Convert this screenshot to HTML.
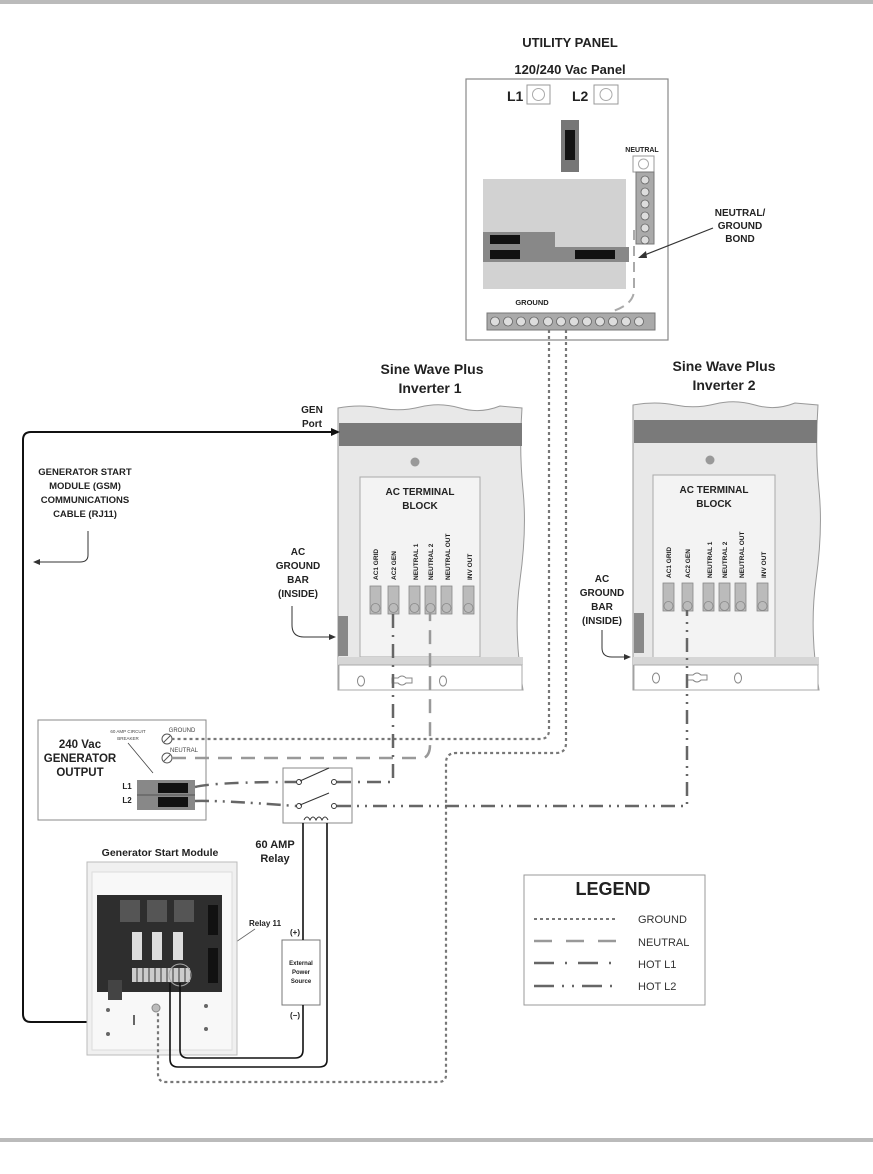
<!DOCTYPE html>
<html><head><meta charset="utf-8"><style>
html,body{margin:0;padding:0;background:#fff;}
svg{display:block;font-family:"Liberation Sans",Arial,sans-serif;}
.b{font-weight:bold;fill:#222;}
</style></head><body>
<svg width="873" height="1174" viewBox="0 0 873 1174" xmlns="http://www.w3.org/2000/svg">
<rect x="0" y="0" width="873" height="4" fill="#bbb"/>
<rect x="0" y="1138" width="873" height="4" fill="#bbb"/>

<!-- UTILITY PANEL -->
<text class="b" x="570" y="47" font-size="13" text-anchor="middle">UTILITY PANEL</text>
<text class="b" x="570" y="74" font-size="13" text-anchor="middle">120/240 Vac Panel</text>
<rect x="466" y="79" width="202" height="261" fill="#fff" stroke="#888" stroke-width="1.2"/>
<text class="b" x="507" y="101" font-size="14">L1</text>
<rect x="527" y="85" width="23" height="19" fill="#fff" stroke="#999"/><circle cx="538.5" cy="94.5" r="6" fill="none" stroke="#aaa"/>
<text class="b" x="572" y="101" font-size="14">L2</text>
<rect x="594" y="85" width="24" height="19" fill="#fff" stroke="#999"/><circle cx="606" cy="94.5" r="6" fill="none" stroke="#aaa"/>
<rect x="561" y="120" width="18" height="52" fill="#777"/><rect x="565" y="130" width="10" height="30" fill="#111"/>
<rect x="483" y="179" width="143" height="110" fill="#d2d2d2"/>
<rect x="483" y="232" width="72" height="15" fill="#888"/><rect x="490" y="235" width="30" height="9" fill="#111"/>
<rect x="483" y="247" width="146" height="15" fill="#888"/><rect x="490" y="250" width="30" height="9" fill="#111"/><rect x="575" y="250" width="40" height="9" fill="#111"/>
<text class="b" x="642" y="152" font-size="7" text-anchor="middle">NEUTRAL</text>
<rect x="633" y="156" width="21" height="16" fill="#fff" stroke="#999"/><circle cx="643.5" cy="164" r="5" fill="none" stroke="#aaa"/>
<rect x="636" y="172" width="18" height="72" fill="#aaa" stroke="#777"/>
<g fill="#ddd" stroke="#666" stroke-width="0.8">
<circle cx="645" cy="180" r="4"/><circle cx="645" cy="192" r="4"/><circle cx="645" cy="204" r="4"/><circle cx="645" cy="216" r="4"/><circle cx="645" cy="228" r="4"/><circle cx="645" cy="240" r="4"/></g>
<path d="M634 230 V290 Q634 305 610 312" fill="none" stroke="#aaa" stroke-width="2" stroke-dasharray="10 6"/>
<text class="b" x="532" y="305" font-size="7.5" text-anchor="middle">GROUND</text>
<rect x="487" y="313" width="168" height="17" fill="#aaa" stroke="#777"/>
<g fill="#ddd" stroke="#666" stroke-width="0.8">
<circle cx="495" cy="321.5" r="4.5"/><circle cx="508" cy="321.5" r="4.5"/><circle cx="521" cy="321.5" r="4.5"/><circle cx="534" cy="321.5" r="4.5"/><circle cx="548" cy="321.5" r="4.5"/><circle cx="561" cy="321.5" r="4.5"/><circle cx="574" cy="321.5" r="4.5"/><circle cx="587" cy="321.5" r="4.5"/><circle cx="600" cy="321.5" r="4.5"/><circle cx="613" cy="321.5" r="4.5"/><circle cx="626" cy="321.5" r="4.5"/><circle cx="639" cy="321.5" r="4.5"/></g>
<text class="b" x="740" y="216" font-size="10" text-anchor="middle">NEUTRAL/</text>
<text class="b" x="740" y="229" font-size="10" text-anchor="middle">GROUND</text>
<text class="b" x="740" y="242" font-size="10" text-anchor="middle">BOND</text>
<line x1="713" y1="228" x2="642" y2="256" stroke="#333" stroke-width="1.2"/>
<polygon points="638,258 646,251 647,258" fill="#333"/>

<!-- Inverter titles -->
<text class="b" x="432" y="374" font-size="14" text-anchor="middle">Sine Wave Plus</text>
<text class="b" x="430" y="393" font-size="14" text-anchor="middle">Inverter 1</text>
<text class="b" x="724" y="371" font-size="14" text-anchor="middle">Sine Wave Plus</text>
<text class="b" x="724" y="390" font-size="14" text-anchor="middle">Inverter 2</text>

<!-- Inverter 1 -->
<g>
<path d="M338 408 Q360 404 380 408 T420 407 T460 408 T500 406 L522 408 Q519 450 523 490 T520 580 T523 690 L338 690 Z" fill="#e8e8e8" stroke="#999"/>
<rect x="339" y="423" width="183" height="23" fill="#7a7a7a"/>
<circle cx="415" cy="462" r="4.5" fill="#999"/>
<rect x="360" y="477" width="120" height="180" fill="#f3f3f3" stroke="#aaa"/>
<text class="b" x="420" y="495" font-size="10" text-anchor="middle">AC TERMINAL</text>
<text class="b" x="420" y="509" font-size="10" text-anchor="middle">BLOCK</text>
<rect x="338" y="657" width="185" height="8" fill="#d6d6d6"/>
<rect x="339" y="665" width="183" height="25" fill="#fff" stroke="#aaa"/>
<ellipse cx="361" cy="681" rx="3.5" ry="5" fill="none" stroke="#888"/>
<ellipse cx="443" cy="681" rx="3.5" ry="5" fill="none" stroke="#888"/>
<path d="M392 678 h6 q4 -4 8 0 h6 v5 h-6 q-4 4 -8 0 h-6z" fill="none" stroke="#888"/>
<rect x="338" y="616" width="10" height="40" fill="#888"/>
<g font-size="6.5" class="b" fill="#333">
<text transform="translate(378,580) rotate(-90)">AC1 GRID</text>
<text transform="translate(396,580) rotate(-90)">AC2 GEN</text>
<text transform="translate(418,580) rotate(-90)">NEUTRAL 1</text>
<text transform="translate(433,580) rotate(-90)">NEUTRAL 2</text>
<text transform="translate(450,580) rotate(-90)">NEUTRAL OUT</text>
<text transform="translate(472,580) rotate(-90)">INV OUT</text>
</g>
<g fill="#bbb" stroke="#888" stroke-width="0.8">
<rect x="370" y="586" width="11" height="28"/><rect x="388" y="586" width="11" height="28"/><rect x="409" y="586" width="11" height="28"/><rect x="425" y="586" width="11" height="28"/><rect x="441" y="586" width="11" height="28"/><rect x="463" y="586" width="11" height="28"/>
<circle cx="375.5" cy="608" r="4.5"/><circle cx="393.5" cy="608" r="4.5"/><circle cx="414.5" cy="608" r="4.5"/><circle cx="430.5" cy="608" r="4.5"/><circle cx="446.5" cy="608" r="4.5"/><circle cx="468.5" cy="608" r="4.5"/></g>
</g>

<!-- Inverter 2 -->
<g>
<path d="M633 405 Q655 401 675 405 T715 404 T755 405 T795 403 L818 405 Q815 450 819 490 T816 580 T819 690 L633 690 Z" fill="#e8e8e8" stroke="#999"/>
<rect x="634" y="420" width="183" height="23" fill="#7a7a7a"/>
<circle cx="710" cy="460" r="4.5" fill="#999"/>
<rect x="653" y="475" width="122" height="190" fill="#f3f3f3" stroke="#aaa"/>
<text class="b" x="714" y="493" font-size="10" text-anchor="middle">AC TERMINAL</text>
<text class="b" x="714" y="507" font-size="10" text-anchor="middle">BLOCK</text>
<rect x="633" y="657" width="186" height="8" fill="#d6d6d6"/>
<rect x="634" y="665" width="184" height="25" fill="#fff" stroke="#aaa"/>
<ellipse cx="656" cy="678" rx="3.5" ry="5" fill="none" stroke="#888"/>
<ellipse cx="738" cy="678" rx="3.5" ry="5" fill="none" stroke="#888"/>
<path d="M687 675 h6 q4 -4 8 0 h6 v5 h-6 q-4 4 -8 0 h-6z" fill="none" stroke="#888"/>
<rect x="634" y="613" width="10" height="40" fill="#888"/>
<g font-size="6.5" class="b" fill="#333">
<text transform="translate(671,578) rotate(-90)">AC1 GRID</text>
<text transform="translate(690,578) rotate(-90)">AC2 GEN</text>
<text transform="translate(712,578) rotate(-90)">NEUTRAL 1</text>
<text transform="translate(727,578) rotate(-90)">NEUTRAL 2</text>
<text transform="translate(744,578) rotate(-90)">NEUTRAL OUT</text>
<text transform="translate(766,578) rotate(-90)">INV OUT</text>
</g>
<g fill="#bbb" stroke="#888" stroke-width="0.8">
<rect x="663" y="583" width="11" height="28"/><rect x="682" y="583" width="11" height="28"/><rect x="703" y="583" width="11" height="28"/><rect x="719" y="583" width="11" height="28"/><rect x="735" y="583" width="11" height="28"/><rect x="757" y="583" width="11" height="28"/>
<circle cx="668.5" cy="606" r="4.5"/><circle cx="687.5" cy="606" r="4.5"/><circle cx="708.5" cy="606" r="4.5"/><circle cx="724.5" cy="606" r="4.5"/><circle cx="740.5" cy="606" r="4.5"/><circle cx="762.5" cy="606" r="4.5"/></g>
</g>

<!-- labels left -->
<text class="b" x="312" y="413" font-size="10" text-anchor="middle">GEN</text>
<text class="b" x="312" y="427" font-size="10" text-anchor="middle">Port</text>
<text class="b" x="85" y="475" font-size="9.5" text-anchor="middle">GENERATOR START</text>
<text class="b" x="85" y="489" font-size="9.5" text-anchor="middle">MODULE (GSM)</text>
<text class="b" x="85" y="503" font-size="9.5" text-anchor="middle">COMMUNICATIONS</text>
<text class="b" x="85" y="517" font-size="9.5" text-anchor="middle">CABLE (RJ11)</text>
<path d="M88 531 V555 Q88 562 80 562 H38" fill="none" stroke="#333" stroke-width="1"/>
<polygon points="33,562 40,559 40,565" fill="#333"/>
<g class="b" font-size="10" text-anchor="middle">
<text x="298" y="555">AC</text><text x="298" y="569">GROUND</text><text x="298" y="583">BAR</text><text x="298" y="597">(INSIDE)</text>
<text x="602" y="582">AC</text><text x="602" y="596">GROUND</text><text x="602" y="610">BAR</text><text x="602" y="624">(INSIDE)</text>
</g>
<path d="M292 606 V625 Q292 637 304 637 H331" fill="none" stroke="#333" stroke-width="1"/>
<polygon points="336,637 329,634 329,640" fill="#333"/>
<path d="M602 630 V648 Q602 657 612 657 H626" fill="none" stroke="#333" stroke-width="1"/>
<polygon points="631,657 624,654 624,660" fill="#333"/>

<!-- GEN port cable -->
<path d="M334 432 H31 Q23 432 23 440 V1014 Q23 1022 31 1022 H108 Q115 1022 115 1014 V1000" fill="none" stroke="#111" stroke-width="2"/>
<polygon points="340,432 331,428 331,436" fill="#111"/>

<!-- Generator output box -->
<rect x="38" y="720" width="168" height="100" fill="#fff" stroke="#888"/>
<text class="b" x="80" y="748" font-size="11.5" text-anchor="middle">240 Vac</text>
<text class="b" x="80" y="762" font-size="11.5" text-anchor="middle">GENERATOR</text>
<text class="b" x="80" y="776" font-size="11.5" text-anchor="middle">OUTPUT</text>
<text x="128" y="733" font-size="4.5" fill="#444" text-anchor="middle">60 AMP CIRCUIT</text>
<text x="128" y="740" font-size="4.5" fill="#444" text-anchor="middle">BREAKER</text>
<line x1="128" y1="743" x2="153" y2="773" stroke="#444" stroke-width="0.8"/>
<text x="182" y="732" font-size="6" fill="#444" text-anchor="middle">GROUND</text>
<text x="184" y="752" font-size="6" fill="#444" text-anchor="middle">NEUTRAL</text>
<circle cx="167" cy="739" r="5" fill="#fff" stroke="#555"/><line x1="164" y1="742" x2="170" y2="736" stroke="#555"/>
<circle cx="167" cy="758" r="5" fill="#fff" stroke="#555"/><line x1="164" y1="761" x2="170" y2="755" stroke="#555"/>
<text class="b" x="127" y="789" font-size="8" text-anchor="middle">L1</text>
<text class="b" x="127" y="803" font-size="8" text-anchor="middle">L2</text>
<rect x="137" y="780" width="58" height="30" fill="#888"/>
<rect x="158" y="783" width="30" height="10" fill="#111"/><rect x="158" y="797" width="30" height="10" fill="#111"/>
<line x1="137" y1="795" x2="195" y2="795" stroke="#555"/>

<!-- relay -->
<rect x="283" y="768" width="69" height="55" fill="#fff" stroke="#888"/>
<circle cx="299" cy="782" r="2.5" fill="#fff" stroke="#333"/><line x1="300" y1="781" x2="329" y2="768" stroke="#333"/><circle cx="334" cy="782" r="2.5" fill="#fff" stroke="#333"/>
<circle cx="299" cy="806" r="2.5" fill="#fff" stroke="#333"/><line x1="300" y1="805" x2="329" y2="793" stroke="#333"/><circle cx="334" cy="806" r="2.5" fill="#fff" stroke="#333"/>
<path d="M304 820 q3 -6 6 0 q3 -6 6 0 q3 -6 6 0 q3 -6 6 0" fill="none" stroke="#333" stroke-width="1"/>
<text class="b" x="275" y="848" font-size="11" text-anchor="middle">60 AMP</text>
<text class="b" x="275" y="862" font-size="11" text-anchor="middle">Relay</text>

<!-- external power -->
<text class="b" x="295" y="935" font-size="8" text-anchor="middle">(+)</text>
<rect x="282" y="940" width="38" height="65" fill="#fff" stroke="#777"/>
<text class="b" x="301" y="965" font-size="6" text-anchor="middle">External</text>
<text class="b" x="301" y="974" font-size="6" text-anchor="middle">Power</text>
<text class="b" x="301" y="983" font-size="6" text-anchor="middle">Source</text>
<text class="b" x="295" y="1018" font-size="8" text-anchor="middle">(−)</text>
<text class="b" x="265" y="926" font-size="8" text-anchor="middle">Relay 11</text>
<line x1="255" y1="929" x2="195" y2="970" stroke="#666" stroke-width="0.8"/>

<!-- GSM -->
<text class="b" x="160" y="856" font-size="10.5" text-anchor="middle">Generator Start Module</text>
<rect x="87" y="862" width="150" height="193" fill="#f0f0f0" stroke="#bbb"/>
<rect x="92" y="872" width="140" height="178" fill="#f8f8f8" stroke="#ddd"/>
<rect x="97" y="895" width="125" height="97" fill="#2e2e2e"/>
<rect x="120" y="900" width="20" height="22" fill="#555"/><rect x="147" y="900" width="20" height="22" fill="#555"/><rect x="174" y="900" width="20" height="22" fill="#555"/>
<rect x="132" y="932" width="10" height="28" fill="#ddd"/><rect x="152" y="932" width="10" height="28" fill="#ddd"/><rect x="173" y="932" width="10" height="28" fill="#ddd"/>
<rect x="208" y="905" width="10" height="30" fill="#111"/><rect x="208" y="948" width="10" height="35" fill="#111"/>
<rect x="132" y="968" width="58" height="14" fill="#ccc"/>
<g stroke="#333" stroke-width="1"><line x1="137" y1="968" x2="137" y2="982"/><line x1="143" y1="968" x2="143" y2="982"/><line x1="149" y1="968" x2="149" y2="982"/><line x1="155" y1="968" x2="155" y2="982"/><line x1="161" y1="968" x2="161" y2="982"/><line x1="167" y1="968" x2="167" y2="982"/><line x1="173" y1="968" x2="173" y2="982"/><line x1="179" y1="968" x2="179" y2="982"/><line x1="185" y1="968" x2="185" y2="982"/></g>
<circle cx="180" cy="975" r="11" fill="none" stroke="#aaa"/>
<rect x="108" y="980" width="14" height="20" fill="#444"/>
<circle cx="156" cy="1008" r="4" fill="#bbb" stroke="#888"/>
<circle cx="108" cy="1010" r="2" fill="#666"/><circle cx="108" cy="1034" r="2" fill="#666"/><circle cx="206" cy="1006" r="2" fill="#666"/><circle cx="206" cy="1029" r="2" fill="#666"/>
<line x1="134" y1="1015" x2="134" y2="1025" stroke="#666" stroke-width="2"/>

<!-- black relay wires -->
<path d="M303 823 V940 M303 1005 V1050 Q303 1058 295 1058 H188 Q180 1058 180 1050 V983" fill="none" stroke="#111" stroke-width="1.6"/>
<path d="M327 823 V1060 Q327 1067 319 1067 H178 Q170 1067 170 1059 V983" fill="none" stroke="#111" stroke-width="1.6"/>

<!-- GROUND (dotted) -->
<g fill="none" stroke="#777" stroke-width="2.2" stroke-dasharray="3 3">
<path d="M549 330 V730 Q549 739 540 739 H172"/>
<path d="M566 330 V743 Q566 753 556 753 H456 Q446 753 446 763 V1075 Q446 1082 438 1082 H166 Q158 1082 158 1074 V1012"/>
</g>
<!-- NEUTRAL -->
<g fill="none" stroke="#999" stroke-width="2.5" stroke-dasharray="14 9">
<path d="M172 758 H424 Q430 755 430 745 V612"/>
</g>
<!-- HOT L1 -->
<g fill="none" stroke="#666" stroke-width="2.5" stroke-dasharray="14 7 2 7">
<path d="M195 787 Q215 782 296 782"/>
<path d="M337 782 H393 V612"/>
</g>
<!-- HOT L2 -->
<g fill="none" stroke="#666" stroke-width="2.5" stroke-dasharray="14 6 2 6 2 6">
<path d="M195 801 Q215 800 296 806"/>
<path d="M337 806 H687 V610"/>
</g>

<!-- LEGEND -->
<rect x="524" y="875" width="181" height="130" fill="#fff" stroke="#999"/>
<text class="b" x="613" y="895" font-size="18" text-anchor="middle">LEGEND</text>
<g fill="none">
<line x1="534" y1="919" x2="617" y2="919" stroke="#777" stroke-width="2" stroke-dasharray="3 3"/>
<line x1="534" y1="941" x2="617" y2="941" stroke="#999" stroke-width="2.5" stroke-dasharray="18 14"/>
<line x1="534" y1="963" x2="617" y2="963" stroke="#666" stroke-width="2.5" stroke-dasharray="20 11 2 11"/>
<line x1="534" y1="986" x2="617" y2="986" stroke="#666" stroke-width="2.5" stroke-dasharray="20 8 2 8 2 8"/>
</g>
<g font-size="11" fill="#333">
<text x="638" y="923">GROUND</text><text x="638" y="946">NEUTRAL</text><text x="638" y="968">HOT L1</text><text x="638" y="990">HOT L2</text>
</g>
</svg>
</body></html>
